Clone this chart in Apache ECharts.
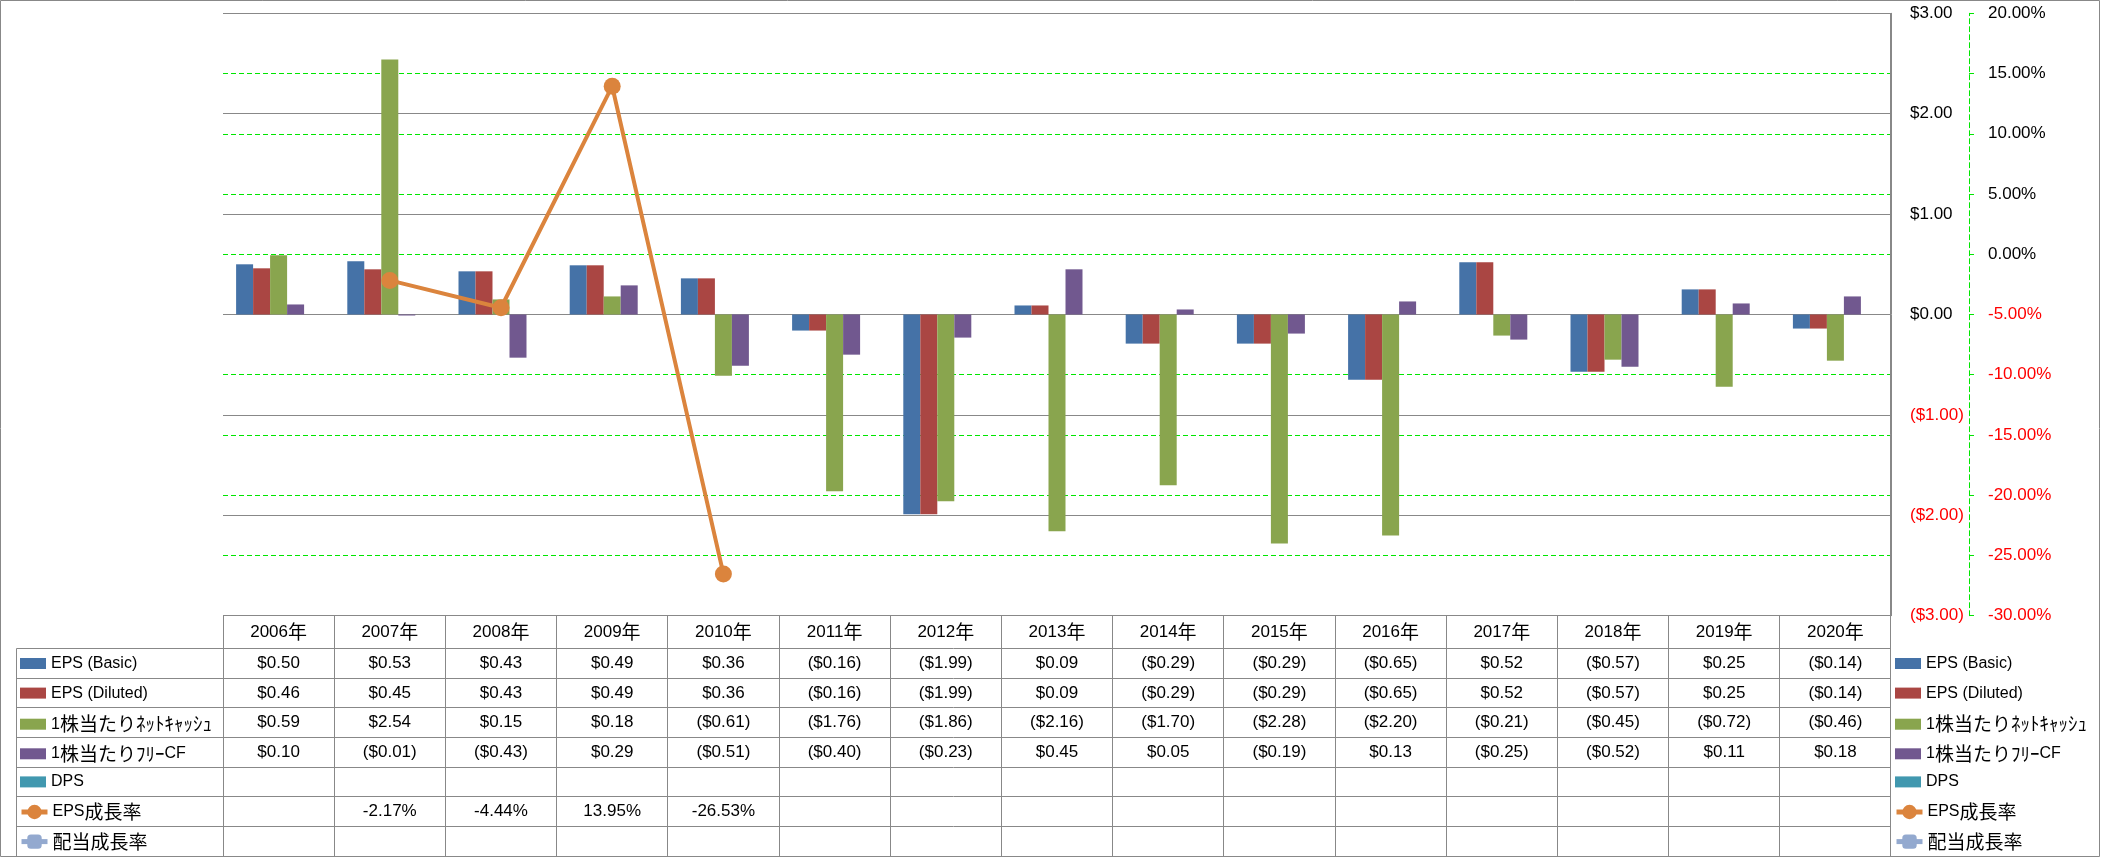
<!DOCTYPE html>
<html><head><meta charset="utf-8">
<script src="https://cdn.jsdelivr.net/npm/echarts@6/dist/echarts.min.js"></script>
<style>html,body{margin:0;padding:0;background:#fff}#c{width:2101px;height:858px}</style>
</head><body><div id="c"></div>
<script>
// ---- data ----
const categories = ['2006年','2007年','2008年','2009年','2010年','2011年','2012年','2013年','2014年','2015年','2016年','2017年','2018年','2019年','2020年'];
const epsBasic   = [0.50, 0.53, 0.43, 0.49, 0.36, -0.16, -1.99, 0.09, -0.29, -0.29, -0.65, 0.52, -0.57, 0.25, -0.14];
const epsDiluted = [0.46, 0.45, 0.43, 0.49, 0.36, -0.16, -1.99, 0.09, -0.29, -0.29, -0.65, 0.52, -0.57, 0.25, -0.14];
const netCash    = [0.59, 2.54, 0.15, 0.18, -0.61, -1.76, -1.86, -2.16, -1.70, -2.28, -2.20, -0.21, -0.45, -0.72, -0.46];
const freeCF     = [0.10, -0.01, -0.43, 0.29, -0.51, -0.40, -0.23, 0.45, 0.05, -0.19, 0.13, -0.25, -0.52, 0.11, 0.18];
const dps        = [null, null, null, null, null, null, null, null, null, null, null, null, null, null, null];
const epsGrowth  = [null, -2.17, -4.44, 13.95, -26.53, null, null, null, null, null, null, null, null, null, null];
const divGrowth  = [null, null, null, null, null, null, null, null, null, null, null, null, null, null, null];
const seriesNames = ['EPS (Basic)','EPS (Diluted)','1株当たりﾈｯﾄｷｬｯｼｭ','1株当たりﾌﾘｰCF','DPS','EPS成長率','配当成長率'];
const colors = ['#4572A7','#AA4643','#89A54E','#71588F','#4198AF','#DB843D','#93A9CF'];

const FONT = "'Liberation Sans','Noto Sans CJK JP',sans-serif";
const JFONT = "'Noto Sans CJK JP',sans-serif";
const FS = 17;        // numbers
const LFS = 16;       // latin legend text
const JFS = 19;       // japanese text
const GRID = {left: 223, top: 13.3, width: 1668, height: 602.4};
const HEADER_H = 33;
const ROW_H = 29.6;
const LINE_C = '#888888';
const GREEN = '#00E600';

function fmtUSD(v) {
  if (v === null || v === undefined) return '';
  return v < 0 ? '($' + Math.abs(v).toFixed(2) + ')' : '$' + v.toFixed(2);
}
function fmtPct(v) {
  if (v === null || v === undefined) return '';
  return v.toFixed(2) + '%';
}
const richJ = s => s.replace(/([^\x00-\x7F]+)/g, '{j|$1}');

const chart = echarts.init(document.getElementById('c'), null, {renderer: 'canvas'});

const barSeries = [epsBasic, epsDiluted, netCash, freeCF, dps].map((d, i) => ({
  name: seriesNames[i], type: 'bar', data: d, yAxisIndex: 0,
  barWidth: 17, barGap: '0%', itemStyle: {color: colors[i]}
}));

const rowY0 = GRID.top + GRID.height + HEADER_H; // top of first data row
const rowC = k => rowY0 + k * ROW_H + ROW_H / 2;
const legendTextStyle = {
  fontSize: LFS, fontFamily: FONT, color: '#000', lineHeight: 16,
  rich: {j: {fontSize: JFS, fontFamily: JFONT, color: '#000', lineHeight: 16}}
};
// one legend entry per table row, so every entry sits on its row
function mkLegend(left, k) {
  const isLine = k >= 5;
  const ih = isLine ? 18 : 11;
  return {
    orient: 'vertical', left: isLine ? left - 1 : left, top: isLine ? rowC(k) - 9 : rowC(k) - 8, padding: 0,
    itemWidth: 26, itemHeight: ih, selectedMode: false,
    icon: isLine ? undefined : 'rect',
    lineStyle: {width: 5},
    data: [seriesNames[k]], textStyle: legendTextStyle, formatter: richJ
  };
}
const legends = [];
for (let k = 0; k < seriesNames.length; k++) {
  legends.push(mkLegend(20, k));
  legends.push(mkLegend(1895, k));
}

chart.setOption({
  animation: false,
  backgroundColor: '#fff',
  textStyle: {fontFamily: FONT},
  grid: Object.assign({outerBoundsMode: 'none', containLabel: false}, GRID),
  xAxis: {
    type: 'category', data: categories,
    axisLine: {show: false}, axisTick: {show: false}, axisLabel: {show: false}, splitLine: {show: false}
  },
  yAxis: [
    {
      type: 'value', position: 'right', min: -3, max: 3, interval: 1, z: 1,
      axisLine: {show: true, lineStyle: {color: LINE_C, width: 1}},
      axisTick: {show: false},
      splitLine: {show: true, lineStyle: {color: LINE_C, width: 1}},
      axisLabel: {
        margin: 19, fontSize: FS, fontFamily: FONT,
        formatter: v => fmtUSD(v),
        color: v => (Number(v) < 0 ? '#FF0000' : '#000000')
      }
    },
    {
      type: 'value', position: 'right', offset: 78, min: -30, max: 20, interval: 5, z: 0,
      axisLine: {show: true, lineStyle: {color: GREEN, width: 1, type: [5, 3]}},
      axisTick: {show: true, inside: false, length: 5, lineStyle: {color: GREEN}},
      splitLine: {show: true, lineStyle: {color: GREEN, width: 1, type: [5, 3]}},
      axisLabel: {
        margin: 19, fontSize: FS, fontFamily: FONT,
        formatter: v => fmtPct(v),
        color: v => (Number(v) < 0 ? '#FF0000' : '#000000')
      }
    }
  ],
  legend: legends,
  series: barSeries.concat([
    {
      name: seriesNames[5], type: 'line', data: epsGrowth, yAxisIndex: 1,
      symbol: 'circle', symbolSize: 17, showAllSymbol: true, z: 5,
      lineStyle: {color: colors[5], width: 4}, itemStyle: {color: colors[5]}
    },
    {
      name: seriesNames[6], type: 'line', data: divGrowth, yAxisIndex: 1,
      symbol: 'roundRect', symbolSize: 14, z: 5,
      lineStyle: {color: colors[6], width: 4}, itemStyle: {color: colors[6]}
    }
  ])
});

// ---- data table below the plot (positions derived from the category axis) ----
const g = [];
const gTop = GRID.top + GRID.height;
const bottom = 856.5;
const c0 = chart.convertToPixel({xAxisIndex: 0}, 0);
const c1 = chart.convertToPixel({xAxisIndex: 0}, 1);
const band = c1 - c0;
const left = c0 - band / 2;
const right = left + band * categories.length;
const px = v => Math.floor(v) + 0.5;
const line = (x1, y1, x2, y2) => g.push({type: 'line', silent: true, z: 10,
  shape: {x1, y1, x2, y2}, style: {stroke: LINE_C, lineWidth: 1}});

line(px(left), px(gTop), px(right), px(gTop));
for (let k = 0; k <= 7; k++) {
  const y = k === 7 ? bottom : px(rowY0 + k * ROW_H);
  line(16.5, y, px(right), y);
}
for (let i = 0; i <= categories.length; i++) {
  const x = px(left + i * band);
  line(x, px(gTop), x, bottom);
}
line(16.5, px(rowY0), 16.5, bottom);
line(px(right), GRID.top, px(right), bottom);

const text = (x, y, s) => g.push({type: 'text', silent: true, z: 11, x, y,
  style: {text: richJ(s), fill: '#000', font: FS + 'px ' + FONT, align: 'center', verticalAlign: 'middle',
          rich: {j: {fontSize: JFS, fontFamily: JFONT, fill: '#000'}}}});

const rows = [epsBasic.map(fmtUSD), epsDiluted.map(fmtUSD), netCash.map(fmtUSD), freeCF.map(fmtUSD),
              dps.map(fmtUSD), epsGrowth.map(fmtPct), divGrowth.map(fmtPct)];
for (let i = 0; i < categories.length; i++) {
  const cx = chart.convertToPixel({xAxisIndex: 0}, i);
  text(cx, gTop + HEADER_H / 2, categories[i]);
  rows.forEach((r, k) => { if (r[i]) text(cx, rowC(k), r[i]); });
}
g.push({type: 'rect', silent: true, z: 12, shape: {x: 0.5, y: 0.5, width: 2099, height: 856},
  style: {fill: null, stroke: LINE_C, lineWidth: 1}});

chart.setOption({graphic: g});
</script></body></html>
